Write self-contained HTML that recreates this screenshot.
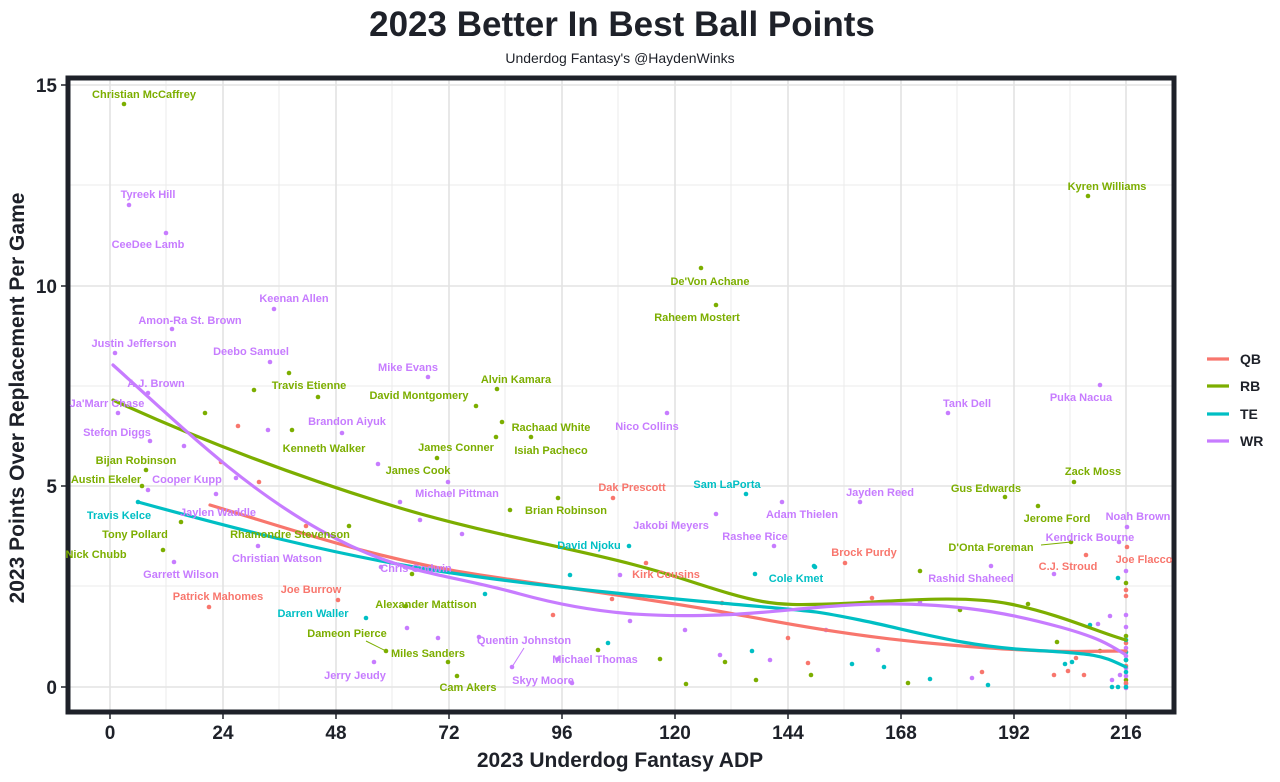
<!DOCTYPE html>
<html><head><meta charset="utf-8"><style>
body{margin:0;background:#fff;}
svg text{font-family:"Liberation Sans",Arial,sans-serif;}
.l{font-size:11px;font-weight:bold;text-anchor:middle;}
.q{fill:#f8766d}.r{fill:#7cae00}.t{fill:#00bfc4}.w{fill:#c77cff}
</style></head><body>
<svg width="1280" height="777" xmlns="http://www.w3.org/2000/svg">
<text x="622" y="36" font-size="35" font-weight="bold" text-anchor="middle" fill="#1e2129">2023 Better In Best Ball Points</text>
<text x="620" y="63" font-size="14" text-anchor="middle" fill="#1e2129">Underdog Fantasy's @HaydenWinks</text>
<g stroke="#ebebeb" stroke-width="1">
<line x1="70" x2="1172" y1="185" y2="185"/><line x1="70" x2="1172" y1="386" y2="386"/><line x1="70" x2="1172" y1="586" y2="586"/>
<line y1="80" y2="710" x1="166" x2="166"/><line y1="80" y2="710" x1="279" x2="279"/><line y1="80" y2="710" x1="392" x2="392"/><line y1="80" y2="710" x1="505" x2="505"/><line y1="80" y2="710" x1="618" x2="618"/><line y1="80" y2="710" x1="731" x2="731"/><line y1="80" y2="710" x1="844" x2="844"/><line y1="80" y2="710" x1="957" x2="957"/><line y1="80" y2="710" x1="1070" x2="1070"/>
</g>
<g stroke="#e3e3e3" stroke-width="1.6">
<line x1="70" x2="1172" y1="85" y2="85"/><line x1="70" x2="1172" y1="286" y2="286"/><line x1="70" x2="1172" y1="486" y2="486"/><line x1="70" x2="1172" y1="687" y2="687"/>
<line y1="80" y2="710" x1="110" x2="110"/><line y1="80" y2="710" x1="223" x2="223"/><line y1="80" y2="710" x1="336" x2="336"/><line y1="80" y2="710" x1="449" x2="449"/><line y1="80" y2="710" x1="562" x2="562"/><line y1="80" y2="710" x1="675" x2="675"/><line y1="80" y2="710" x1="788" x2="788"/><line y1="80" y2="710" x1="901" x2="901"/><line y1="80" y2="710" x1="1014" x2="1014"/><line y1="80" y2="710" x1="1126" x2="1126"/>
</g>
<g>
<g class="r">
<circle cx="124" cy="104" r="2.3"/><circle cx="1088" cy="196" r="2.3"/><circle cx="701" cy="268" r="2.3"/><circle cx="716" cy="305" r="2.3"/><circle cx="289" cy="373" r="2.3"/><circle cx="497" cy="389" r="2.3"/><circle cx="476" cy="406" r="2.3"/><circle cx="502" cy="422" r="2.3"/><circle cx="531" cy="437" r="2.3"/><circle cx="292" cy="430" r="2.3"/><circle cx="496" cy="437" r="2.3"/><circle cx="205" cy="413" r="2.3"/><circle cx="437" cy="458" r="2.3"/><circle cx="142" cy="486" r="2.3"/><circle cx="510" cy="510" r="2.3"/><circle cx="181" cy="522" r="2.3"/><circle cx="349" cy="526" r="2.3"/><circle cx="163" cy="550" r="2.3"/><circle cx="1005" cy="497" r="2.3"/><circle cx="1038" cy="506" r="2.3"/><circle cx="1071" cy="542" r="2.3"/><circle cx="1074" cy="482" r="2.3"/><circle cx="406" cy="606" r="2.3"/><circle cx="386" cy="651" r="2.3"/><circle cx="457" cy="676" r="2.3"/><circle cx="254" cy="390" r="2.3"/><circle cx="318" cy="397" r="2.3"/><circle cx="146" cy="470" r="2.3"/><circle cx="558" cy="498" r="2.3"/><circle cx="412" cy="574" r="2.3"/><circle cx="448" cy="662" r="2.3"/><circle cx="686" cy="684" r="2.3"/><circle cx="725" cy="662" r="2.3"/><circle cx="756" cy="680" r="2.3"/><circle cx="811" cy="675" r="2.3"/><circle cx="908" cy="683" r="2.3"/><circle cx="920" cy="571" r="2.3"/><circle cx="960" cy="610" r="2.3"/><circle cx="1028" cy="604" r="2.3"/><circle cx="1057" cy="642" r="2.3"/><circle cx="1100" cy="651" r="2.3"/><circle cx="1126" cy="583" r="2.3"/><circle cx="1126" cy="636" r="2.3"/><circle cx="1126" cy="660" r="2.3"/><circle cx="1126" cy="680" r="2.3"/><circle cx="598" cy="650" r="2.3"/><circle cx="660" cy="659" r="2.3"/>
</g>
<g class="w">
<circle cx="129" cy="205" r="2.3"/><circle cx="166" cy="233" r="2.3"/><circle cx="274" cy="309" r="2.3"/><circle cx="172" cy="329" r="2.3"/><circle cx="115" cy="353" r="2.3"/><circle cx="270" cy="362" r="2.3"/><circle cx="428" cy="377" r="2.3"/><circle cx="148" cy="393" r="2.3"/><circle cx="118" cy="413" r="2.3"/><circle cx="342" cy="433" r="2.3"/><circle cx="150" cy="441" r="2.3"/><circle cx="667" cy="413" r="2.3"/><circle cx="948" cy="413" r="2.3"/><circle cx="1100" cy="385" r="2.3"/><circle cx="860" cy="502" r="2.3"/><circle cx="782" cy="502" r="2.3"/><circle cx="716" cy="514" r="2.3"/><circle cx="774" cy="546" r="2.3"/><circle cx="1127" cy="527" r="2.3"/><circle cx="1119" cy="542" r="2.3"/><circle cx="148" cy="490" r="2.3"/><circle cx="216" cy="494" r="2.3"/><circle cx="448" cy="482" r="2.3"/><circle cx="258" cy="546" r="2.3"/><circle cx="381" cy="567" r="2.3"/><circle cx="174" cy="562" r="2.3"/><circle cx="991" cy="566" r="2.3"/><circle cx="512" cy="667" r="2.3"/><circle cx="558" cy="659" r="2.3"/><circle cx="374" cy="662" r="2.3"/><circle cx="572" cy="683" r="2.3"/><circle cx="268" cy="430" r="2.3"/><circle cx="184" cy="446" r="2.3"/><circle cx="400" cy="502" r="2.3"/><circle cx="420" cy="520" r="2.3"/><circle cx="462" cy="534" r="2.3"/><circle cx="407" cy="628" r="2.3"/><circle cx="438" cy="638" r="2.3"/><circle cx="479" cy="637" r="2.3"/><circle cx="620" cy="575" r="2.3"/><circle cx="630" cy="621" r="2.3"/><circle cx="685" cy="630" r="2.3"/><circle cx="720" cy="655" r="2.3"/><circle cx="770" cy="660" r="2.3"/><circle cx="826" cy="630" r="2.3"/><circle cx="878" cy="650" r="2.3"/><circle cx="920" cy="602" r="2.3"/><circle cx="972" cy="678" r="2.3"/><circle cx="1054" cy="574" r="2.3"/><circle cx="1098" cy="624" r="2.3"/><circle cx="1110" cy="616" r="2.3"/><circle cx="1120" cy="675" r="2.3"/><circle cx="1112" cy="680" r="2.3"/><circle cx="1126" cy="571" r="2.3"/><circle cx="1126" cy="615" r="2.3"/><circle cx="1126" cy="627" r="2.3"/><circle cx="1126" cy="648" r="2.3"/><circle cx="1126" cy="656" r="2.3"/><circle cx="1126" cy="668" r="2.3"/><circle cx="1126" cy="676" r="2.3"/><circle cx="1126" cy="684" r="2.3"/><circle cx="1126" cy="688" r="2.3"/><circle cx="236" cy="478" r="2.3"/><circle cx="378" cy="464" r="2.3"/>
</g>
<g class="q">
<circle cx="613" cy="498" r="2.3"/><circle cx="845" cy="563" r="2.3"/><circle cx="646" cy="563" r="2.3"/><circle cx="338" cy="600" r="2.3"/><circle cx="209" cy="607" r="2.3"/><circle cx="1086" cy="555" r="2.3"/><circle cx="1127" cy="547" r="2.3"/><circle cx="238" cy="426" r="2.3"/><circle cx="221" cy="462" r="2.3"/><circle cx="259" cy="482" r="2.3"/><circle cx="306" cy="526" r="2.3"/><circle cx="553" cy="615" r="2.3"/><circle cx="612" cy="599" r="2.3"/><circle cx="722" cy="603" r="2.3"/><circle cx="788" cy="638" r="2.3"/><circle cx="808" cy="663" r="2.3"/><circle cx="872" cy="598" r="2.3"/><circle cx="982" cy="672" r="2.3"/><circle cx="1054" cy="675" r="2.3"/><circle cx="1068" cy="671" r="2.3"/><circle cx="1084" cy="675" r="2.3"/><circle cx="1076" cy="658" r="2.3"/><circle cx="1126" cy="590" r="2.3"/><circle cx="1126" cy="596" r="2.3"/><circle cx="1126" cy="643" r="2.3"/><circle cx="1126" cy="666" r="2.3"/><circle cx="1126" cy="683" r="2.3"/>
</g>
<g class="t">
<circle cx="138" cy="502" r="2.3"/><circle cx="746" cy="494" r="2.3"/><circle cx="629" cy="546" r="2.3"/><circle cx="815" cy="567" r="2.3"/><circle cx="366" cy="618" r="2.3"/><circle cx="485" cy="594" r="2.3"/><circle cx="570" cy="575" r="2.3"/><circle cx="608" cy="643" r="2.3"/><circle cx="755" cy="574" r="2.3"/><circle cx="752" cy="651" r="2.3"/><circle cx="814" cy="566" r="2.3"/><circle cx="852" cy="664" r="2.3"/><circle cx="884" cy="667" r="2.3"/><circle cx="930" cy="679" r="2.3"/><circle cx="988" cy="685" r="2.3"/><circle cx="1065" cy="664" r="2.3"/><circle cx="1072" cy="662" r="2.3"/><circle cx="1090" cy="625" r="2.3"/><circle cx="1118" cy="578" r="2.3"/><circle cx="1112" cy="687" r="2.3"/><circle cx="1118" cy="687" r="2.3"/><circle cx="1126" cy="640" r="2.3"/><circle cx="1126" cy="652" r="2.3"/><circle cx="1126" cy="672" r="2.3"/><circle cx="1126" cy="687" r="2.3"/><circle cx="1126" cy="660" r="2.3"/>
</g>
</g>
<g fill="none" stroke-width="3.2" stroke-linejoin="round" stroke-linecap="round">
<path stroke="#7cae00" d="M113,400 C200,440 300,478 400,508 S600,552 680,578 S770,606 830,604 S960,594 1010,604 S1100,633 1126,640"/>
<path stroke="#f8766d" d="M210,505 C300,532 380,560 480,575 S640,598 700,608 S840,636 950,645 S1080,651 1126,651"/>
<path stroke="#00bfc4" d="M138,502 C240,530 330,553 420,568 S620,594 720,603 S810,610 860,620 S960,646 1030,650 S1100,655 1126,667"/>
<path stroke="#c77cff" d="M113,365 C180,425 240,485 320,530 S440,572 520,594 S660,617 720,615 S830,603 900,604 S1020,616 1060,627 S1110,645 1126,655"/>
</g>
<g stroke-width="1" fill="none">
<line x1="1041" y1="545" x2="1071" y2="542" stroke="#7cae00"/>
<line x1="366" y1="641" x2="386" y2="651" stroke="#7cae00"/>
<line x1="512" y1="667" x2="524" y2="648" stroke="#c77cff"/>
</g>
<rect x="68" y="78" width="1106" height="634" fill="none" stroke="#1e2129" stroke-width="5"/>
<g class="l">
<text class="r" x="144" y="98">Christian McCaffrey</text>
<text class="r" x="1107" y="190">Kyren Williams</text>
<text class="r" x="710" y="285">De'Von Achane</text>
<text class="r" x="697" y="321">Raheem Mostert</text>
<text class="r" x="309" y="389">Travis Etienne</text>
<text class="r" x="516" y="383">Alvin Kamara</text>
<text class="r" x="419" y="399">David Montgomery</text>
<text class="r" x="551" y="431">Rachaad White</text>
<text class="r" x="551" y="454">Isiah Pacheco</text>
<text class="r" x="324" y="452">Kenneth Walker</text>
<text class="r" x="456" y="451">James Conner</text>
<text class="r" x="136" y="464">Bijan Robinson</text>
<text class="r" x="418" y="474">James Cook</text>
<text class="r" x="106" y="483">Austin Ekeler</text>
<text class="r" x="566" y="514">Brian Robinson</text>
<text class="r" x="135" y="538">Tony Pollard</text>
<text class="r" x="290" y="538">Rhamondre Stevenson</text>
<text class="r" x="96" y="558">Nick Chubb</text>
<text class="r" x="986" y="492">Gus Edwards</text>
<text class="r" x="1057" y="522">Jerome Ford</text>
<text class="r" x="991" y="551">D'Onta Foreman</text>
<text class="r" x="1093" y="475">Zack Moss</text>
<text class="r" x="426" y="608">Alexander Mattison</text>
<text class="r" x="347" y="637">Dameon Pierce</text>
<text class="r" x="428" y="657">Miles Sanders</text>
<text class="r" x="468" y="691">Cam Akers</text>
<text class="w" x="148" y="198">Tyreek Hill</text>
<text class="w" x="148" y="248">CeeDee Lamb</text>
<text class="w" x="294" y="302">Keenan Allen</text>
<text class="w" x="190" y="324">Amon-Ra St. Brown</text>
<text class="w" x="134" y="347">Justin Jefferson</text>
<text class="w" x="251" y="355">Deebo Samuel</text>
<text class="w" x="408" y="371">Mike Evans</text>
<text class="w" x="156" y="387">A.J. Brown</text>
<text class="w" x="107" y="407">Ja'Marr Chase</text>
<text class="w" x="347" y="425">Brandon Aiyuk</text>
<text class="w" x="117" y="436">Stefon Diggs</text>
<text class="w" x="647" y="430">Nico Collins</text>
<text class="w" x="967" y="407">Tank Dell</text>
<text class="w" x="1081" y="401">Puka Nacua</text>
<text class="w" x="880" y="496">Jayden Reed</text>
<text class="w" x="802" y="518">Adam Thielen</text>
<text class="w" x="671" y="529">Jakobi Meyers</text>
<text class="w" x="755" y="540">Rashee Rice</text>
<text class="w" x="1138" y="520">Noah Brown</text>
<text class="w" x="1090" y="541">Kendrick Bourne</text>
<text class="w" x="187" y="483">Cooper Kupp</text>
<text class="w" x="218" y="516">Jaylen Waddle</text>
<text class="w" x="457" y="497">Michael Pittman</text>
<text class="w" x="277" y="562">Christian Watson</text>
<text class="w" x="416" y="572">Chris Godwin</text>
<text class="w" x="181" y="578">Garrett Wilson</text>
<text class="w" x="971" y="582">Rashid Shaheed</text>
<text class="w" x="524" y="644">Quentin Johnston</text>
<text class="w" x="595" y="663">Michael Thomas</text>
<text class="w" x="355" y="679">Jerry Jeudy</text>
<text class="w" x="543" y="684">Skyy Moore</text>
<text class="q" x="632" y="491">Dak Prescott</text>
<text class="q" x="864" y="556">Brock Purdy</text>
<text class="q" x="666" y="578">Kirk Cousins</text>
<text class="q" x="311" y="593">Joe Burrow</text>
<text class="q" x="218" y="600">Patrick Mahomes</text>
<text class="q" x="1068" y="570">C.J. Stroud</text>
<text class="q" x="1144" y="563">Joe Flacco</text>
<text class="t" x="119" y="519">Travis Kelce</text>
<text class="t" x="727" y="488">Sam LaPorta</text>
<text class="t" x="589" y="549">David Njoku</text>
<text class="t" x="796" y="582">Cole Kmet</text>
<text class="t" x="313" y="617">Darren Waller</text>
</g>
<g stroke="#1e2129" stroke-width="1.5">
<line x1="61" x2="66" y1="85" y2="85"/><line x1="61" x2="66" y1="286" y2="286"/><line x1="61" x2="66" y1="486" y2="486"/><line x1="61" x2="66" y1="687" y2="687"/>
<line y1="714" y2="719" x1="110" x2="110"/><line y1="714" y2="719" x1="223" x2="223"/><line y1="714" y2="719" x1="336" x2="336"/><line y1="714" y2="719" x1="449" x2="449"/><line y1="714" y2="719" x1="562" x2="562"/><line y1="714" y2="719" x1="675" x2="675"/><line y1="714" y2="719" x1="788" x2="788"/><line y1="714" y2="719" x1="901" x2="901"/><line y1="714" y2="719" x1="1014" x2="1014"/><line y1="714" y2="719" x1="1126" x2="1126"/>
</g>
<g font-size="19" font-weight="bold" fill="#1e2129" text-anchor="end">
<text x="57" y="92">15</text><text x="57" y="293">10</text><text x="57" y="493">5</text><text x="57" y="694">0</text>
</g>
<g font-size="19" font-weight="bold" fill="#1e2129" text-anchor="middle">
<text x="110" y="739">0</text><text x="223" y="739">24</text><text x="336" y="739">48</text><text x="449" y="739">72</text><text x="562" y="739">96</text><text x="675" y="739">120</text><text x="788" y="739">144</text><text x="901" y="739">168</text><text x="1014" y="739">192</text><text x="1126" y="739">216</text>
</g>
<text x="620" y="767" font-size="21" font-weight="bold" fill="#1e2129" text-anchor="middle">2023 Underdog Fantasy ADP</text>
<text transform="translate(24,398) rotate(-90)" font-size="21" font-weight="bold" fill="#1e2129" text-anchor="middle">2023 Points Over Replacement Per Game</text>
<g stroke-width="3.2">
<line x1="1207" x2="1229" y1="359" y2="359" stroke="#f8766d"/>
<line x1="1207" x2="1229" y1="386" y2="386" stroke="#7cae00"/>
<line x1="1207" x2="1229" y1="414" y2="414" stroke="#00bfc4"/>
<line x1="1207" x2="1229" y1="441" y2="441" stroke="#c77cff"/>
</g>
<g font-size="14" font-weight="bold" fill="#1e2129">
<text x="1240" y="364">QB</text><text x="1240" y="391">RB</text><text x="1240" y="419">TE</text><text x="1240" y="446">WR</text>
</g>
</svg>
</body></html>
